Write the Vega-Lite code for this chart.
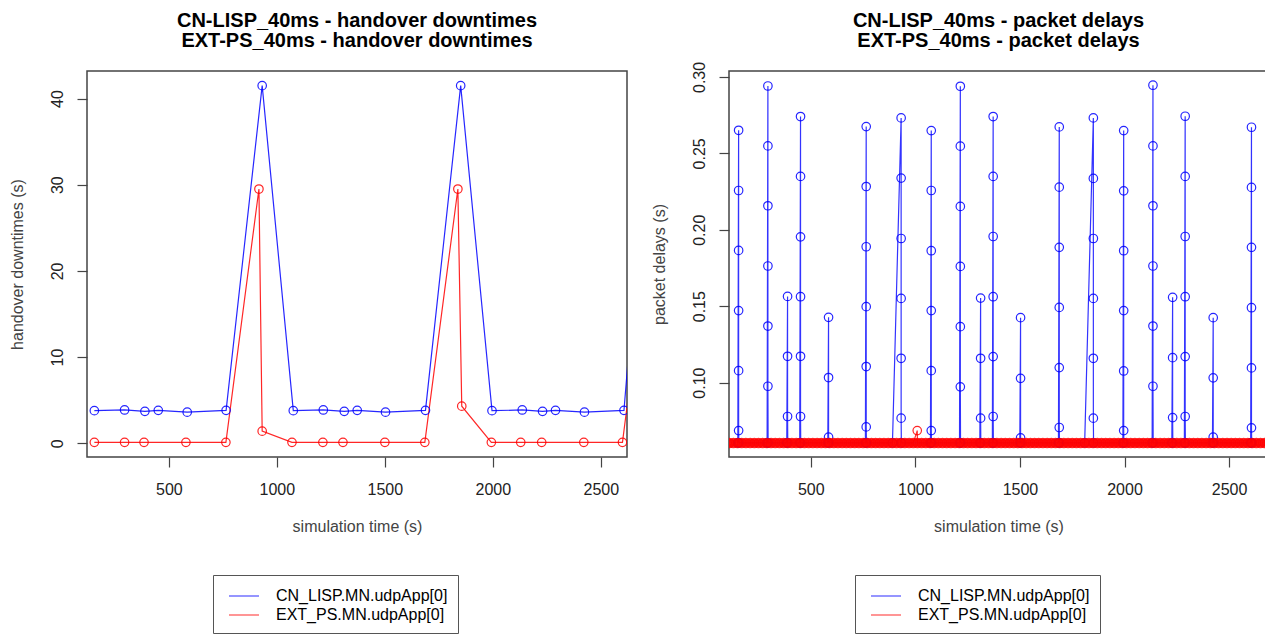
{
  "$schema": "https://vega.github.io/schema/vega-lite/v6.json",
  "background": "white",
  "padding": {"left": 8, "top": 10, "right": 0, "bottom": 0},
  "datasets": {
    "hd": [
      {"t":155,"v":3.78,"s":"CN_LISP.MN.udpApp[0]"},
      {"t":295,"v":3.86,"s":"CN_LISP.MN.udpApp[0]"},
      {"t":389,"v":3.7,"s":"CN_LISP.MN.udpApp[0]"},
      {"t":451,"v":3.82,"s":"CN_LISP.MN.udpApp[0]"},
      {"t":585,"v":3.6,"s":"CN_LISP.MN.udpApp[0]"},
      {"t":765,"v":3.82,"s":"CN_LISP.MN.udpApp[0]"},
      {"t":932,"v":41.5,"s":"CN_LISP.MN.udpApp[0]"},
      {"t":1076,"v":3.78,"s":"CN_LISP.MN.udpApp[0]"},
      {"t":1215,"v":3.86,"s":"CN_LISP.MN.udpApp[0]"},
      {"t":1312,"v":3.7,"s":"CN_LISP.MN.udpApp[0]"},
      {"t":1372,"v":3.82,"s":"CN_LISP.MN.udpApp[0]"},
      {"t":1503,"v":3.6,"s":"CN_LISP.MN.udpApp[0]"},
      {"t":1688,"v":3.82,"s":"CN_LISP.MN.udpApp[0]"},
      {"t":1851,"v":41.5,"s":"CN_LISP.MN.udpApp[0]"},
      {"t":1996,"v":3.78,"s":"CN_LISP.MN.udpApp[0]"},
      {"t":2136,"v":3.86,"s":"CN_LISP.MN.udpApp[0]"},
      {"t":2230,"v":3.7,"s":"CN_LISP.MN.udpApp[0]"},
      {"t":2290,"v":3.82,"s":"CN_LISP.MN.udpApp[0]"},
      {"t":2424,"v":3.6,"s":"CN_LISP.MN.udpApp[0]"},
      {"t":2607,"v":3.82,"s":"CN_LISP.MN.udpApp[0]"},
      {"t":2730,"v":41.5,"s":"CN_LISP.MN.udpApp[0]"},
      {"t":155,"v":0.1,"s":"EXT_PS.MN.udpApp[0]"},
      {"t":295,"v":0.1,"s":"EXT_PS.MN.udpApp[0]"},
      {"t":385,"v":0.1,"s":"EXT_PS.MN.udpApp[0]"},
      {"t":579,"v":0.1,"s":"EXT_PS.MN.udpApp[0]"},
      {"t":764,"v":0.1,"s":"EXT_PS.MN.udpApp[0]"},
      {"t":917,"v":29.5,"s":"EXT_PS.MN.udpApp[0]"},
      {"t":932,"v":1.4,"s":"EXT_PS.MN.udpApp[0]"},
      {"t":1070,"v":0.1,"s":"EXT_PS.MN.udpApp[0]"},
      {"t":1213,"v":0.1,"s":"EXT_PS.MN.udpApp[0]"},
      {"t":1306,"v":0.1,"s":"EXT_PS.MN.udpApp[0]"},
      {"t":1500,"v":0.1,"s":"EXT_PS.MN.udpApp[0]"},
      {"t":1685,"v":0.1,"s":"EXT_PS.MN.udpApp[0]"},
      {"t":1838,"v":29.5,"s":"EXT_PS.MN.udpApp[0]"},
      {"t":1856,"v":4.3,"s":"EXT_PS.MN.udpApp[0]"},
      {"t":1993,"v":0.1,"s":"EXT_PS.MN.udpApp[0]"},
      {"t":2129,"v":0.1,"s":"EXT_PS.MN.udpApp[0]"},
      {"t":2226,"v":0.1,"s":"EXT_PS.MN.udpApp[0]"},
      {"t":2421,"v":0.1,"s":"EXT_PS.MN.udpApp[0]"},
      {"t":2600,"v":0.1,"s":"EXT_PS.MN.udpApp[0]"},
      {"t":2750,"v":29.5,"s":"EXT_PS.MN.udpApp[0]"}
    ],
    "pd": [
      {"t":151.2,"v":0.0606,"s":"CN_LISP.MN.udpApp[0]"},
      {"t":155,"v":0.2651,"s":"CN_LISP.MN.udpApp[0]"},
      {"t":155,"v":0.2257,"s":"CN_LISP.MN.udpApp[0]"},
      {"t":155,"v":0.1865,"s":"CN_LISP.MN.udpApp[0]"},
      {"t":155,"v":0.1471,"s":"CN_LISP.MN.udpApp[0]"},
      {"t":155,"v":0.1078,"s":"CN_LISP.MN.udpApp[0]"},
      {"t":155,"v":0.0686,"s":"CN_LISP.MN.udpApp[0]"},
      {"t":156,"v":0.0606,"s":"CN_LISP.MN.udpApp[0]"},
      {"t":291.2,"v":0.0606,"s":"CN_LISP.MN.udpApp[0]"},
      {"t":295,"v":0.2941,"s":"CN_LISP.MN.udpApp[0]"},
      {"t":295,"v":0.2549,"s":"CN_LISP.MN.udpApp[0]"},
      {"t":295,"v":0.2157,"s":"CN_LISP.MN.udpApp[0]"},
      {"t":295,"v":0.1763,"s":"CN_LISP.MN.udpApp[0]"},
      {"t":295,"v":0.137,"s":"CN_LISP.MN.udpApp[0]"},
      {"t":295,"v":0.0976,"s":"CN_LISP.MN.udpApp[0]"},
      {"t":296,"v":0.0606,"s":"CN_LISP.MN.udpApp[0]"},
      {"t":385.2,"v":0.0606,"s":"CN_LISP.MN.udpApp[0]"},
      {"t":389,"v":0.1564,"s":"CN_LISP.MN.udpApp[0]"},
      {"t":389,"v":0.1172,"s":"CN_LISP.MN.udpApp[0]"},
      {"t":389,"v":0.0778,"s":"CN_LISP.MN.udpApp[0]"},
      {"t":390,"v":0.0606,"s":"CN_LISP.MN.udpApp[0]"},
      {"t":447.2,"v":0.0606,"s":"CN_LISP.MN.udpApp[0]"},
      {"t":451,"v":0.2741,"s":"CN_LISP.MN.udpApp[0]"},
      {"t":451,"v":0.2349,"s":"CN_LISP.MN.udpApp[0]"},
      {"t":451,"v":0.1954,"s":"CN_LISP.MN.udpApp[0]"},
      {"t":451,"v":0.1562,"s":"CN_LISP.MN.udpApp[0]"},
      {"t":451,"v":0.1172,"s":"CN_LISP.MN.udpApp[0]"},
      {"t":451,"v":0.0778,"s":"CN_LISP.MN.udpApp[0]"},
      {"t":452,"v":0.0606,"s":"CN_LISP.MN.udpApp[0]"},
      {"t":581.4,"v":0.0606,"s":"CN_LISP.MN.udpApp[0]"},
      {"t":585,"v":0.1427,"s":"CN_LISP.MN.udpApp[0]"},
      {"t":585,"v":0.1033,"s":"CN_LISP.MN.udpApp[0]"},
      {"t":585,"v":0.0643,"s":"CN_LISP.MN.udpApp[0]"},
      {"t":586,"v":0.0606,"s":"CN_LISP.MN.udpApp[0]"},
      {"t":761.2,"v":0.0606,"s":"CN_LISP.MN.udpApp[0]"},
      {"t":765,"v":0.2675,"s":"CN_LISP.MN.udpApp[0]"},
      {"t":765,"v":0.2283,"s":"CN_LISP.MN.udpApp[0]"},
      {"t":765,"v":0.1889,"s":"CN_LISP.MN.udpApp[0]"},
      {"t":765,"v":0.1497,"s":"CN_LISP.MN.udpApp[0]"},
      {"t":765,"v":0.1105,"s":"CN_LISP.MN.udpApp[0]"},
      {"t":765,"v":0.071,"s":"CN_LISP.MN.udpApp[0]"},
      {"t":766,"v":0.0606,"s":"CN_LISP.MN.udpApp[0]"},
      {"t":890.5,"v":0.0606,"s":"CN_LISP.MN.udpApp[0]"},
      {"t":932,"v":0.2732,"s":"CN_LISP.MN.udpApp[0]"},
      {"t":932,"v":0.2338,"s":"CN_LISP.MN.udpApp[0]"},
      {"t":932,"v":0.1943,"s":"CN_LISP.MN.udpApp[0]"},
      {"t":932,"v":0.1551,"s":"CN_LISP.MN.udpApp[0]"},
      {"t":932,"v":0.1159,"s":"CN_LISP.MN.udpApp[0]"},
      {"t":932,"v":0.0767,"s":"CN_LISP.MN.udpApp[0]"},
      {"t":933,"v":0.0606,"s":"CN_LISP.MN.udpApp[0]"},
      {"t":1072.2,"v":0.0606,"s":"CN_LISP.MN.udpApp[0]"},
      {"t":1076,"v":0.2649,"s":"CN_LISP.MN.udpApp[0]"},
      {"t":1076,"v":0.2257,"s":"CN_LISP.MN.udpApp[0]"},
      {"t":1076,"v":0.1863,"s":"CN_LISP.MN.udpApp[0]"},
      {"t":1076,"v":0.1471,"s":"CN_LISP.MN.udpApp[0]"},
      {"t":1076,"v":0.1078,"s":"CN_LISP.MN.udpApp[0]"},
      {"t":1076,"v":0.0686,"s":"CN_LISP.MN.udpApp[0]"},
      {"t":1077,"v":0.0606,"s":"CN_LISP.MN.udpApp[0]"},
      {"t":1211.1,"v":0.0606,"s":"CN_LISP.MN.udpApp[0]"},
      {"t":1215,"v":0.2939,"s":"CN_LISP.MN.udpApp[0]"},
      {"t":1215,"v":0.2547,"s":"CN_LISP.MN.udpApp[0]"},
      {"t":1215,"v":0.2153,"s":"CN_LISP.MN.udpApp[0]"},
      {"t":1215,"v":0.176,"s":"CN_LISP.MN.udpApp[0]"},
      {"t":1215,"v":0.1366,"s":"CN_LISP.MN.udpApp[0]"},
      {"t":1215,"v":0.0972,"s":"CN_LISP.MN.udpApp[0]"},
      {"t":1216,"v":0.0606,"s":"CN_LISP.MN.udpApp[0]"},
      {"t":1308.3,"v":0.0606,"s":"CN_LISP.MN.udpApp[0]"},
      {"t":1312,"v":0.1553,"s":"CN_LISP.MN.udpApp[0]"},
      {"t":1312,"v":0.1159,"s":"CN_LISP.MN.udpApp[0]"},
      {"t":1312,"v":0.0767,"s":"CN_LISP.MN.udpApp[0]"},
      {"t":1313,"v":0.0606,"s":"CN_LISP.MN.udpApp[0]"},
      {"t":1368.2,"v":0.0606,"s":"CN_LISP.MN.udpApp[0]"},
      {"t":1372,"v":0.2741,"s":"CN_LISP.MN.udpApp[0]"},
      {"t":1372,"v":0.2349,"s":"CN_LISP.MN.udpApp[0]"},
      {"t":1372,"v":0.1956,"s":"CN_LISP.MN.udpApp[0]"},
      {"t":1372,"v":0.1562,"s":"CN_LISP.MN.udpApp[0]"},
      {"t":1372,"v":0.117,"s":"CN_LISP.MN.udpApp[0]"},
      {"t":1372,"v":0.0778,"s":"CN_LISP.MN.udpApp[0]"},
      {"t":1373,"v":0.0606,"s":"CN_LISP.MN.udpApp[0]"},
      {"t":1499.4,"v":0.0606,"s":"CN_LISP.MN.udpApp[0]"},
      {"t":1503,"v":0.1425,"s":"CN_LISP.MN.udpApp[0]"},
      {"t":1503,"v":0.1028,"s":"CN_LISP.MN.udpApp[0]"},
      {"t":1503,"v":0.0638,"s":"CN_LISP.MN.udpApp[0]"},
      {"t":1504,"v":0.0606,"s":"CN_LISP.MN.udpApp[0]"},
      {"t":1684.2,"v":0.0606,"s":"CN_LISP.MN.udpApp[0]"},
      {"t":1688,"v":0.2673,"s":"CN_LISP.MN.udpApp[0]"},
      {"t":1688,"v":0.2279,"s":"CN_LISP.MN.udpApp[0]"},
      {"t":1688,"v":0.1885,"s":"CN_LISP.MN.udpApp[0]"},
      {"t":1688,"v":0.1492,"s":"CN_LISP.MN.udpApp[0]"},
      {"t":1688,"v":0.1098,"s":"CN_LISP.MN.udpApp[0]"},
      {"t":1688,"v":0.0706,"s":"CN_LISP.MN.udpApp[0]"},
      {"t":1689,"v":0.0606,"s":"CN_LISP.MN.udpApp[0]"},
      {"t":1809.5,"v":0.0606,"s":"CN_LISP.MN.udpApp[0]"},
      {"t":1851,"v":0.2732,"s":"CN_LISP.MN.udpApp[0]"},
      {"t":1851,"v":0.2336,"s":"CN_LISP.MN.udpApp[0]"},
      {"t":1851,"v":0.1943,"s":"CN_LISP.MN.udpApp[0]"},
      {"t":1851,"v":0.1551,"s":"CN_LISP.MN.udpApp[0]"},
      {"t":1851,"v":0.1159,"s":"CN_LISP.MN.udpApp[0]"},
      {"t":1851,"v":0.0767,"s":"CN_LISP.MN.udpApp[0]"},
      {"t":1852,"v":0.0606,"s":"CN_LISP.MN.udpApp[0]"},
      {"t":1992.2,"v":0.0606,"s":"CN_LISP.MN.udpApp[0]"},
      {"t":1996,"v":0.2649,"s":"CN_LISP.MN.udpApp[0]"},
      {"t":1996,"v":0.2255,"s":"CN_LISP.MN.udpApp[0]"},
      {"t":1996,"v":0.1863,"s":"CN_LISP.MN.udpApp[0]"},
      {"t":1996,"v":0.1471,"s":"CN_LISP.MN.udpApp[0]"},
      {"t":1996,"v":0.1076,"s":"CN_LISP.MN.udpApp[0]"},
      {"t":1996,"v":0.0686,"s":"CN_LISP.MN.udpApp[0]"},
      {"t":1997,"v":0.0606,"s":"CN_LISP.MN.udpApp[0]"},
      {"t":2132.1,"v":0.0606,"s":"CN_LISP.MN.udpApp[0]"},
      {"t":2136,"v":0.2946,"s":"CN_LISP.MN.udpApp[0]"},
      {"t":2136,"v":0.2549,"s":"CN_LISP.MN.udpApp[0]"},
      {"t":2136,"v":0.2157,"s":"CN_LISP.MN.udpApp[0]"},
      {"t":2136,"v":0.1763,"s":"CN_LISP.MN.udpApp[0]"},
      {"t":2136,"v":0.137,"s":"CN_LISP.MN.udpApp[0]"},
      {"t":2136,"v":0.0976,"s":"CN_LISP.MN.udpApp[0]"},
      {"t":2137,"v":0.0606,"s":"CN_LISP.MN.udpApp[0]"},
      {"t":2226.3,"v":0.0606,"s":"CN_LISP.MN.udpApp[0]"},
      {"t":2230,"v":0.1558,"s":"CN_LISP.MN.udpApp[0]"},
      {"t":2230,"v":0.1163,"s":"CN_LISP.MN.udpApp[0]"},
      {"t":2230,"v":0.0771,"s":"CN_LISP.MN.udpApp[0]"},
      {"t":2231,"v":0.0606,"s":"CN_LISP.MN.udpApp[0]"},
      {"t":2286.2,"v":0.0606,"s":"CN_LISP.MN.udpApp[0]"},
      {"t":2290,"v":0.2743,"s":"CN_LISP.MN.udpApp[0]"},
      {"t":2290,"v":0.2349,"s":"CN_LISP.MN.udpApp[0]"},
      {"t":2290,"v":0.1956,"s":"CN_LISP.MN.udpApp[0]"},
      {"t":2290,"v":0.1562,"s":"CN_LISP.MN.udpApp[0]"},
      {"t":2290,"v":0.117,"s":"CN_LISP.MN.udpApp[0]"},
      {"t":2290,"v":0.0778,"s":"CN_LISP.MN.udpApp[0]"},
      {"t":2291,"v":0.0606,"s":"CN_LISP.MN.udpApp[0]"},
      {"t":2420.4,"v":0.0606,"s":"CN_LISP.MN.udpApp[0]"},
      {"t":2424,"v":0.1425,"s":"CN_LISP.MN.udpApp[0]"},
      {"t":2424,"v":0.1031,"s":"CN_LISP.MN.udpApp[0]"},
      {"t":2424,"v":0.0643,"s":"CN_LISP.MN.udpApp[0]"},
      {"t":2425,"v":0.0606,"s":"CN_LISP.MN.udpApp[0]"},
      {"t":2603.2,"v":0.0606,"s":"CN_LISP.MN.udpApp[0]"},
      {"t":2607,"v":0.2671,"s":"CN_LISP.MN.udpApp[0]"},
      {"t":2607,"v":0.2277,"s":"CN_LISP.MN.udpApp[0]"},
      {"t":2607,"v":0.1885,"s":"CN_LISP.MN.udpApp[0]"},
      {"t":2607,"v":0.149,"s":"CN_LISP.MN.udpApp[0]"},
      {"t":2607,"v":0.1096,"s":"CN_LISP.MN.udpApp[0]"},
      {"t":2607,"v":0.0704,"s":"CN_LISP.MN.udpApp[0]"},
      {"t":2608,"v":0.0606,"s":"CN_LISP.MN.udpApp[0]"},
      {"t":110,"v":0.0605,"s":"EXT_PS.MN.udpApp[0]"},
      {"t":130,"v":0.0605,"s":"EXT_PS.MN.udpApp[0]"},
      {"t":150,"v":0.0605,"s":"EXT_PS.MN.udpApp[0]"},
      {"t":170,"v":0.0605,"s":"EXT_PS.MN.udpApp[0]"},
      {"t":190,"v":0.0605,"s":"EXT_PS.MN.udpApp[0]"},
      {"t":210,"v":0.0605,"s":"EXT_PS.MN.udpApp[0]"},
      {"t":230,"v":0.0605,"s":"EXT_PS.MN.udpApp[0]"},
      {"t":250,"v":0.0605,"s":"EXT_PS.MN.udpApp[0]"},
      {"t":270,"v":0.0605,"s":"EXT_PS.MN.udpApp[0]"},
      {"t":290,"v":0.0605,"s":"EXT_PS.MN.udpApp[0]"},
      {"t":310,"v":0.0605,"s":"EXT_PS.MN.udpApp[0]"},
      {"t":330,"v":0.0605,"s":"EXT_PS.MN.udpApp[0]"},
      {"t":350,"v":0.0605,"s":"EXT_PS.MN.udpApp[0]"},
      {"t":370,"v":0.0605,"s":"EXT_PS.MN.udpApp[0]"},
      {"t":390,"v":0.0605,"s":"EXT_PS.MN.udpApp[0]"},
      {"t":410,"v":0.0605,"s":"EXT_PS.MN.udpApp[0]"},
      {"t":430,"v":0.0605,"s":"EXT_PS.MN.udpApp[0]"},
      {"t":450,"v":0.0605,"s":"EXT_PS.MN.udpApp[0]"},
      {"t":470,"v":0.0605,"s":"EXT_PS.MN.udpApp[0]"},
      {"t":490,"v":0.0605,"s":"EXT_PS.MN.udpApp[0]"},
      {"t":510,"v":0.0605,"s":"EXT_PS.MN.udpApp[0]"},
      {"t":530,"v":0.0605,"s":"EXT_PS.MN.udpApp[0]"},
      {"t":550,"v":0.0605,"s":"EXT_PS.MN.udpApp[0]"},
      {"t":570,"v":0.0605,"s":"EXT_PS.MN.udpApp[0]"},
      {"t":590,"v":0.0605,"s":"EXT_PS.MN.udpApp[0]"},
      {"t":610,"v":0.0605,"s":"EXT_PS.MN.udpApp[0]"},
      {"t":630,"v":0.0605,"s":"EXT_PS.MN.udpApp[0]"},
      {"t":650,"v":0.0605,"s":"EXT_PS.MN.udpApp[0]"},
      {"t":670,"v":0.0605,"s":"EXT_PS.MN.udpApp[0]"},
      {"t":690,"v":0.0605,"s":"EXT_PS.MN.udpApp[0]"},
      {"t":710,"v":0.0605,"s":"EXT_PS.MN.udpApp[0]"},
      {"t":730,"v":0.0605,"s":"EXT_PS.MN.udpApp[0]"},
      {"t":750,"v":0.0605,"s":"EXT_PS.MN.udpApp[0]"},
      {"t":770,"v":0.0605,"s":"EXT_PS.MN.udpApp[0]"},
      {"t":790,"v":0.0605,"s":"EXT_PS.MN.udpApp[0]"},
      {"t":810,"v":0.0605,"s":"EXT_PS.MN.udpApp[0]"},
      {"t":830,"v":0.0605,"s":"EXT_PS.MN.udpApp[0]"},
      {"t":850,"v":0.0605,"s":"EXT_PS.MN.udpApp[0]"},
      {"t":870,"v":0.0605,"s":"EXT_PS.MN.udpApp[0]"},
      {"t":890,"v":0.0605,"s":"EXT_PS.MN.udpApp[0]"},
      {"t":910,"v":0.0605,"s":"EXT_PS.MN.udpApp[0]"},
      {"t":930,"v":0.0605,"s":"EXT_PS.MN.udpApp[0]"},
      {"t":950,"v":0.0605,"s":"EXT_PS.MN.udpApp[0]"},
      {"t":970,"v":0.0605,"s":"EXT_PS.MN.udpApp[0]"},
      {"t":990,"v":0.0605,"s":"EXT_PS.MN.udpApp[0]"},
      {"t":1009,"v":0.0686,"s":"EXT_PS.MN.udpApp[0]"},
      {"t":1010,"v":0.0605,"s":"EXT_PS.MN.udpApp[0]"},
      {"t":1030,"v":0.0605,"s":"EXT_PS.MN.udpApp[0]"},
      {"t":1050,"v":0.0605,"s":"EXT_PS.MN.udpApp[0]"},
      {"t":1070,"v":0.0605,"s":"EXT_PS.MN.udpApp[0]"},
      {"t":1090,"v":0.0605,"s":"EXT_PS.MN.udpApp[0]"},
      {"t":1110,"v":0.0605,"s":"EXT_PS.MN.udpApp[0]"},
      {"t":1130,"v":0.0605,"s":"EXT_PS.MN.udpApp[0]"},
      {"t":1150,"v":0.0605,"s":"EXT_PS.MN.udpApp[0]"},
      {"t":1170,"v":0.0605,"s":"EXT_PS.MN.udpApp[0]"},
      {"t":1190,"v":0.0605,"s":"EXT_PS.MN.udpApp[0]"},
      {"t":1210,"v":0.0605,"s":"EXT_PS.MN.udpApp[0]"},
      {"t":1230,"v":0.0605,"s":"EXT_PS.MN.udpApp[0]"},
      {"t":1250,"v":0.0605,"s":"EXT_PS.MN.udpApp[0]"},
      {"t":1270,"v":0.0605,"s":"EXT_PS.MN.udpApp[0]"},
      {"t":1290,"v":0.0605,"s":"EXT_PS.MN.udpApp[0]"},
      {"t":1310,"v":0.0605,"s":"EXT_PS.MN.udpApp[0]"},
      {"t":1330,"v":0.0605,"s":"EXT_PS.MN.udpApp[0]"},
      {"t":1350,"v":0.0605,"s":"EXT_PS.MN.udpApp[0]"},
      {"t":1370,"v":0.0605,"s":"EXT_PS.MN.udpApp[0]"},
      {"t":1390,"v":0.0605,"s":"EXT_PS.MN.udpApp[0]"},
      {"t":1410,"v":0.0605,"s":"EXT_PS.MN.udpApp[0]"},
      {"t":1430,"v":0.0605,"s":"EXT_PS.MN.udpApp[0]"},
      {"t":1450,"v":0.0605,"s":"EXT_PS.MN.udpApp[0]"},
      {"t":1470,"v":0.0605,"s":"EXT_PS.MN.udpApp[0]"},
      {"t":1490,"v":0.0605,"s":"EXT_PS.MN.udpApp[0]"},
      {"t":1510,"v":0.0605,"s":"EXT_PS.MN.udpApp[0]"},
      {"t":1530,"v":0.0605,"s":"EXT_PS.MN.udpApp[0]"},
      {"t":1550,"v":0.0605,"s":"EXT_PS.MN.udpApp[0]"},
      {"t":1570,"v":0.0605,"s":"EXT_PS.MN.udpApp[0]"},
      {"t":1590,"v":0.0605,"s":"EXT_PS.MN.udpApp[0]"},
      {"t":1610,"v":0.0605,"s":"EXT_PS.MN.udpApp[0]"},
      {"t":1630,"v":0.0605,"s":"EXT_PS.MN.udpApp[0]"},
      {"t":1650,"v":0.0605,"s":"EXT_PS.MN.udpApp[0]"},
      {"t":1670,"v":0.0605,"s":"EXT_PS.MN.udpApp[0]"},
      {"t":1690,"v":0.0605,"s":"EXT_PS.MN.udpApp[0]"},
      {"t":1710,"v":0.0605,"s":"EXT_PS.MN.udpApp[0]"},
      {"t":1730,"v":0.0605,"s":"EXT_PS.MN.udpApp[0]"},
      {"t":1750,"v":0.0605,"s":"EXT_PS.MN.udpApp[0]"},
      {"t":1770,"v":0.0605,"s":"EXT_PS.MN.udpApp[0]"},
      {"t":1790,"v":0.0605,"s":"EXT_PS.MN.udpApp[0]"},
      {"t":1810,"v":0.0605,"s":"EXT_PS.MN.udpApp[0]"},
      {"t":1830,"v":0.0605,"s":"EXT_PS.MN.udpApp[0]"},
      {"t":1850,"v":0.0605,"s":"EXT_PS.MN.udpApp[0]"},
      {"t":1870,"v":0.0605,"s":"EXT_PS.MN.udpApp[0]"},
      {"t":1890,"v":0.0605,"s":"EXT_PS.MN.udpApp[0]"},
      {"t":1910,"v":0.0605,"s":"EXT_PS.MN.udpApp[0]"},
      {"t":1930,"v":0.0605,"s":"EXT_PS.MN.udpApp[0]"},
      {"t":1950,"v":0.0605,"s":"EXT_PS.MN.udpApp[0]"},
      {"t":1970,"v":0.0605,"s":"EXT_PS.MN.udpApp[0]"},
      {"t":1990,"v":0.0605,"s":"EXT_PS.MN.udpApp[0]"},
      {"t":2010,"v":0.0605,"s":"EXT_PS.MN.udpApp[0]"},
      {"t":2030,"v":0.0605,"s":"EXT_PS.MN.udpApp[0]"},
      {"t":2050,"v":0.0605,"s":"EXT_PS.MN.udpApp[0]"},
      {"t":2070,"v":0.0605,"s":"EXT_PS.MN.udpApp[0]"},
      {"t":2090,"v":0.0605,"s":"EXT_PS.MN.udpApp[0]"},
      {"t":2110,"v":0.0605,"s":"EXT_PS.MN.udpApp[0]"},
      {"t":2130,"v":0.0605,"s":"EXT_PS.MN.udpApp[0]"},
      {"t":2150,"v":0.0605,"s":"EXT_PS.MN.udpApp[0]"},
      {"t":2170,"v":0.0605,"s":"EXT_PS.MN.udpApp[0]"},
      {"t":2190,"v":0.0605,"s":"EXT_PS.MN.udpApp[0]"},
      {"t":2210,"v":0.0605,"s":"EXT_PS.MN.udpApp[0]"},
      {"t":2230,"v":0.0605,"s":"EXT_PS.MN.udpApp[0]"},
      {"t":2250,"v":0.0605,"s":"EXT_PS.MN.udpApp[0]"},
      {"t":2270,"v":0.0605,"s":"EXT_PS.MN.udpApp[0]"},
      {"t":2290,"v":0.0605,"s":"EXT_PS.MN.udpApp[0]"},
      {"t":2310,"v":0.0605,"s":"EXT_PS.MN.udpApp[0]"},
      {"t":2330,"v":0.0605,"s":"EXT_PS.MN.udpApp[0]"},
      {"t":2350,"v":0.0605,"s":"EXT_PS.MN.udpApp[0]"},
      {"t":2370,"v":0.0605,"s":"EXT_PS.MN.udpApp[0]"},
      {"t":2390,"v":0.0605,"s":"EXT_PS.MN.udpApp[0]"},
      {"t":2410,"v":0.0605,"s":"EXT_PS.MN.udpApp[0]"},
      {"t":2430,"v":0.0605,"s":"EXT_PS.MN.udpApp[0]"},
      {"t":2450,"v":0.0605,"s":"EXT_PS.MN.udpApp[0]"},
      {"t":2470,"v":0.0605,"s":"EXT_PS.MN.udpApp[0]"},
      {"t":2490,"v":0.0605,"s":"EXT_PS.MN.udpApp[0]"},
      {"t":2510,"v":0.0605,"s":"EXT_PS.MN.udpApp[0]"},
      {"t":2530,"v":0.0605,"s":"EXT_PS.MN.udpApp[0]"},
      {"t":2550,"v":0.0605,"s":"EXT_PS.MN.udpApp[0]"},
      {"t":2570,"v":0.0605,"s":"EXT_PS.MN.udpApp[0]"},
      {"t":2590,"v":0.0605,"s":"EXT_PS.MN.udpApp[0]"},
      {"t":2610,"v":0.0605,"s":"EXT_PS.MN.udpApp[0]"},
      {"t":2630,"v":0.0605,"s":"EXT_PS.MN.udpApp[0]"},
      {"t":2650,"v":0.0605,"s":"EXT_PS.MN.udpApp[0]"},
      {"t":2670,"v":0.0605,"s":"EXT_PS.MN.udpApp[0]"},
      {"t":2690,"v":0.0605,"s":"EXT_PS.MN.udpApp[0]"}
    ]
  },
  "hconcat": [
    {
      "width": 540,
      "height": 386,
      "title": {"text": ["CN-LISP_40ms - handover downtimes", "EXT-PS_40ms - handover downtimes"]},
      "data": {"name": "hd"},
      "encoding": {
        "x": {"field": "t", "type": "quantitative", "scale": {"domain": [121, 2621], "nice": false, "zero": false}, "axis": {"values": [500, 1000, 1500, 2000, 2500], "format": "d", "title": "simulation time (s)"}},
        "y": {"field": "v", "type": "quantitative", "scale": {"domain": [-1.6, 43.2], "nice": false, "zero": false}, "axis": {"values": [0, 10, 20, 30, 40], "format": "d", "title": "handover downtimes (s)"}},
        "color": {
          "field": "s", "type": "nominal",
          "scale": {"domain": ["CN_LISP.MN.udpApp[0]", "EXT_PS.MN.udpApp[0]"], "range": ["#0000ff", "#ff0000"]},
          "legend": {"orient": "none", "legendX": 126, "legendY": 504, "title": null, "strokeColor": "#555", "fillColor": "white", "padding": 10, "symbolType": "M-1.5,0H1.5", "symbolSize": 400, "symbolStrokeWidth": 1.5, "symbolOffset": 10, "labelOffset": 21, "labelFontSize": 16, "labelColor": "#000", "labelFont": "Liberation Sans", "symbolOpacity": 0.55, "rowPadding": 0, "labelLimit": 400}
        }
      },
      "layer": [
        {"mark": {"type": "line", "clip": true, "strokeWidth": 1.2, "opacity": 0.85}, "encoding": {"order": {"value": null}}},
        {"mark": {"type": "point", "clip": true, "filled": false, "size": 72, "strokeWidth": 1.2, "opacity": 0.85}}
      ]
    },
    {
      "width": 539,
      "height": 386,
      "title": {"text": ["CN-LISP_40ms - packet delays", "EXT-PS_40ms - packet delays"], "offset": 10},
      "data": {"name": "pd"},
      "encoding": {
        "x": {"field": "t", "type": "quantitative", "scale": {"domain": [109, 2686], "nice": false, "zero": false}, "axis": {"values": [500, 1000, 1500, 2000, 2500], "format": "d", "title": "simulation time (s)"}},
        "y": {"field": "v", "type": "quantitative", "scale": {"domain": [0.0513, 0.3039], "nice": false, "zero": false}, "axis": {"values": [0.1, 0.15, 0.2, 0.25, 0.3], "format": ".2f", "title": "packet delays (s)"}},
        "color": {
          "field": "s", "type": "nominal",
          "scale": {"domain": ["CN_LISP.MN.udpApp[0]", "EXT_PS.MN.udpApp[0]"], "range": ["#0000ff", "#ff0000"]},
          "legend": {"orient": "none", "legendX": 126, "legendY": 504, "title": null, "strokeColor": "#555", "fillColor": "white", "padding": 10, "symbolType": "M-1.5,0H1.5", "symbolSize": 400, "symbolStrokeWidth": 1.5, "symbolOffset": 10, "labelOffset": 21, "labelFontSize": 16, "labelColor": "#000", "labelFont": "Liberation Sans", "symbolOpacity": 0.55, "rowPadding": 0, "labelLimit": 400}
        }
      },
      "layer": [
        {"mark": {"type": "line", "clip": true, "strokeWidth": 1.2, "opacity": 0.8}, "encoding": {"order": {"value": null}}},
        {
          "mark": {"type": "point", "clip": true, "filled": false, "opacity": 0.85},
          "encoding": {
            "size": {"condition": {"test": "datum.s === 'EXT_PS.MN.udpApp[0]' && datum.v < 0.065", "value": 45}, "value": 72},
            "strokeWidth": {"condition": {"test": "datum.s === 'EXT_PS.MN.udpApp[0]' && datum.v < 0.065", "value": 3.8}, "value": 1.2}
          }
        }
      ]
    }
  ],
  "spacing": 22,
  "resolve": {"scale": {"color": "independent"}, "legend": {"color": "independent"}},
  "config": {
    "font": "Liberation Sans",
    "view": {"stroke": "#444", "strokeWidth": 1.5},
    "axis": {"grid": false, "domain": false, "tickColor": "#444", "tickSize": 10, "tickWidth": 1.2, "labelFontSize": 16, "labelColor": "#222", "labelFont": "Liberation Sans", "titleFont": "Liberation Sans", "titleFontSize": 16, "titleColor": "#444", "titleFontWeight": "normal", "labelOverlap": false},
    "axisX": {"labelPadding": 14, "titlePadding": 21},
    "axisY": {"labelAngle": 270, "labelAlign": "center", "labelBaseline": "bottom", "labelPadding": 12, "titlePadding": 24},
    "title": {"fontSize": 20, "fontWeight": "bold", "font": "Liberation Sans", "color": "#000", "offset": 20, "lineHeight": 20, "anchor": "middle"}
  }
}
